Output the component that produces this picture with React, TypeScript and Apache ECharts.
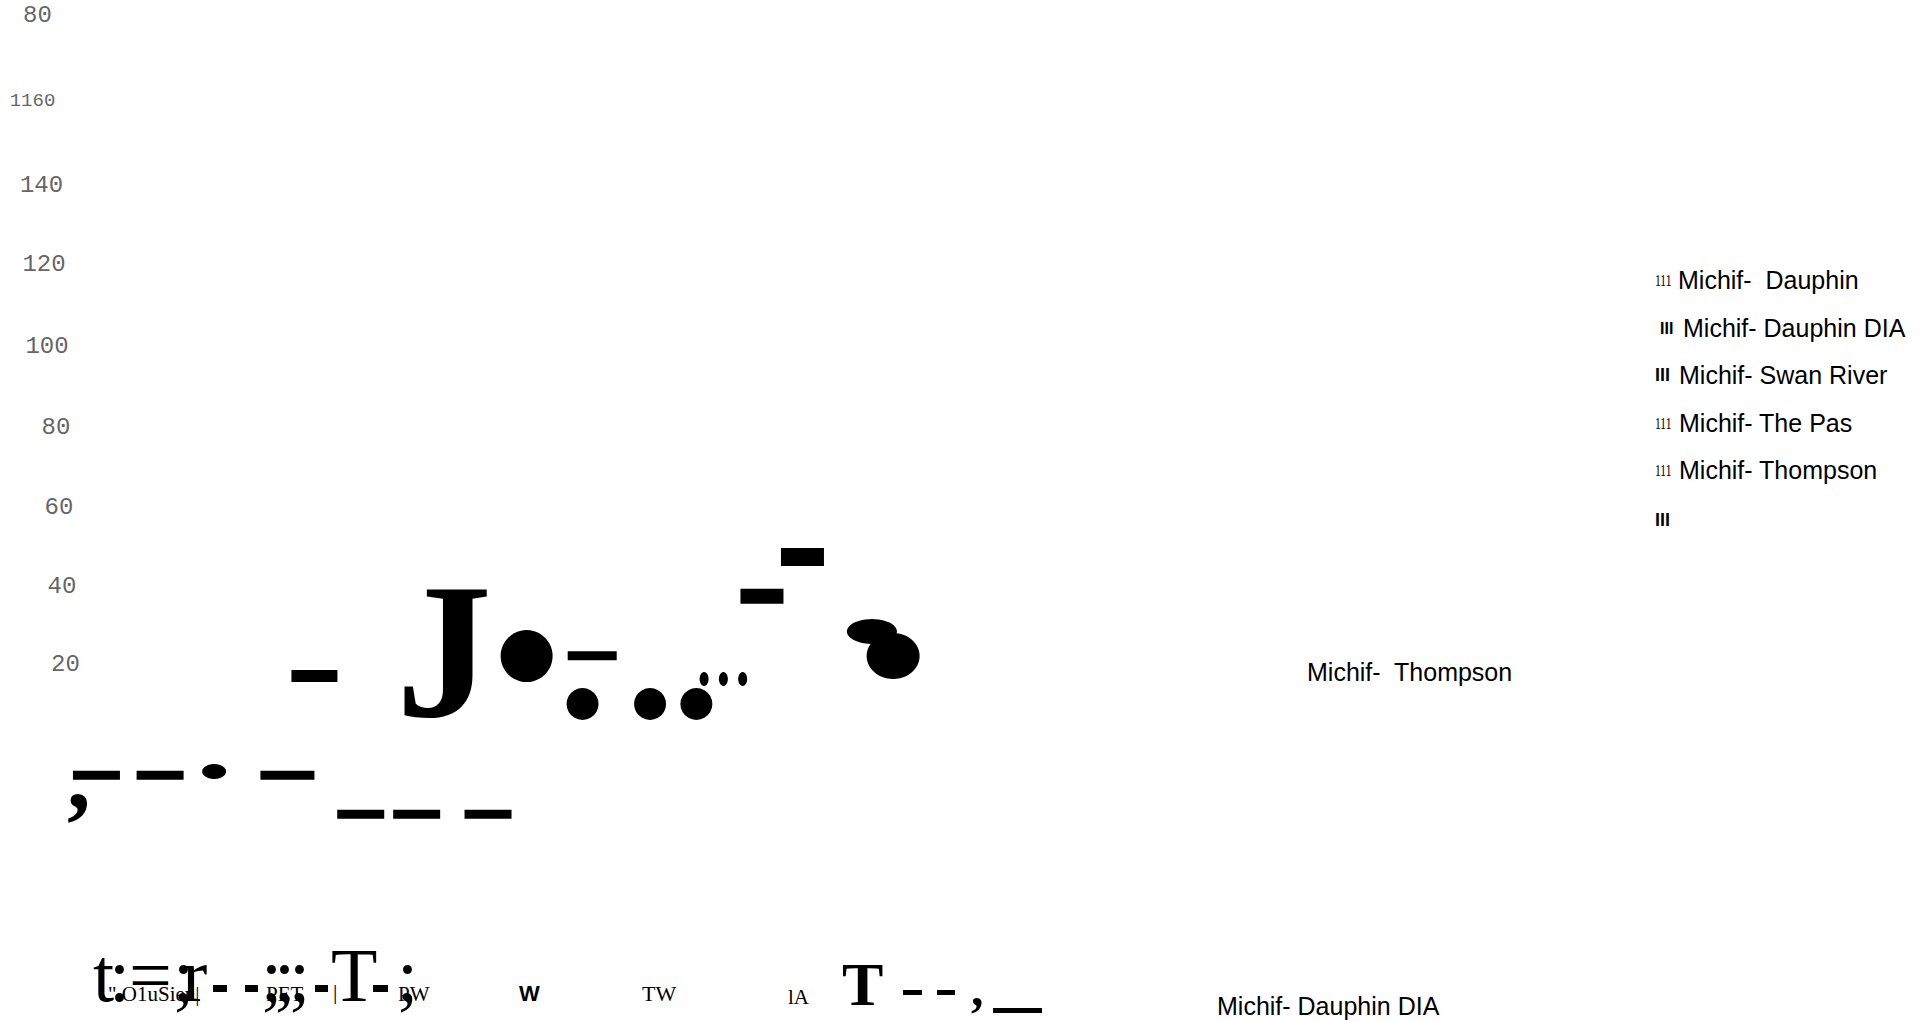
import React, { useEffect, useRef } from "react";
import * as echarts from "echarts";

// ---- Y axis tick labels (as printed) and the values they stand for ----
const tickLabels = ["80", "1160", "140", "120", "100", "80", "60", "40", "20"];
const tickValues = [180, 160, 140, 120, 100, 80, 60, 40, 20];

// ---- Rectangular marks (x position 0-100, y value) ----
const dashX = [16.3, 5.0, 8.3, 14.9, 18.7, 21.6, 25.3, 30.7, 39.5, 41.6];
const dashY = [17.2, -8.3, -8.3, -8.3, -18.3, -18.3, -18.3, 22.4, 37.6, 47.7];

// ---- Round marks (x position 0-100, y value) ----
const dotX = [27.3, 11.1, 30.2, 33.7, 36.1, 36.5, 37.5, 38.5, 45.2, 46.3];
const dotY = [22.3, -7.3, 10.0, 10.0, 10.0, 16.4, 16.4, 16.4, 28.6, 22.3];

// ---- Series names in the legend ----
const legendNames = [
  "Michif-  Dauphin",
  "Michif- Dauphin DIA",
  "Michif- Swan River",
  "Michif- The Pas",
  "Michif- Thompson",
];
const legendMarks = ["111", "III", "III", "111", "111", "III"];

// ---- Inline labels ----
const inlineLabels = ["Michif-  Thompson", "Michif- Dauphin DIA"];

// ---- Category axis row (as printed) ----
const axisRowBig = ["t", ":", "=", ";", "r", ";", ";", ";", "T", ";"];
const axisRowSmall = ["\".O1uSien|", "PET", "|", "PW", "W", "TW", "lA"];

// ================= styles (sizes/positions, not data) =================
const dashSizes = [[46, 12], [47, 9], [47, 9], [54, 9], [47, 9], [47, 9], [47, 9], [49, 9], [43, 15], [43, 18]];
const dotSizes = [[52, 52], [24, 15], [32, 32], [32, 32], [32, 32], [9, 14], [9, 14], [9, 14], [50, 25], [53, 46]];
const tickDx = [37.5, 32.5, 41.5, 44, 47, 56, 59, 62, 65.5];
const tickDy = [-26, -18, -12, -11, -7, -4, -2, -1, -1];
const legendY = [280, 328, 375, 423, 470, 520];
const legendTextX = [1678, 1683, 1679, 1679, 1679];
const legendMarkX = [1655, 1660, 1655, 1655, 1655, 1655];
const legendMarkScaleX = [0.68, 1, 1, 0.68, 0.68, 1];
const legendMarkFont = [
  '17px "Liberation Serif"',
  'bold 16px "Liberation Sans"',
  'bold 18px "Liberation Sans"',
  '17px "Liberation Serif"',
  '17px "Liberation Serif"',
  'bold 18px "Liberation Sans"',
];
const bigRowX = [93, 109, 129, 173, 182, 261, 274, 289, 331, 397];
const smallRowX = [108, 266, 333, 398, 519, 642, 788];
const smallRowY = [994, 994, 991, 994, 993, 993, 997];
const smallRowFont = [
  '21px "Liberation Serif"',
  '21px "Liberation Serif"',
  '22px "Liberation Serif"',
  '21px "Liberation Serif"',
  'bold 22px "Liberation Sans"',
  '22px "Liberation Serif"',
  '21px "Liberation Serif"',
];

function txt(text: string, x: number, y: number, font: string, fill = "#000", scaleX = 1) {
  return {
    type: "text",
    x,
    y,
    scaleX,
    silent: true,
    style: {
      text,
      font,
      fill,
      align: "left",
      verticalAlign: "middle",
      textAlign: "left",
      textVerticalAlign: "middle",
    },
  };
}
function bar(x: number, y: number, w: number, h: number) {
  return { type: "rect", silent: true, shape: { x, y, width: w, height: h }, style: { fill: "#000" } };
}

export default function App() {
  const ref = useRef<HTMLDivElement>(null);
  useEffect(() => {
    if (!ref.current) return;
    const chart = echarts.init(ref.current, undefined, { renderer: "svg" });

    const graphic: any[] = [];
    // legend
    legendNames.forEach((n, i) => {
      graphic.push(txt(n, legendTextX[i], legendY[i], '25px "Liberation Sans"'));
    });
    legendMarks.forEach((m, i) => {
      graphic.push(txt(m, legendMarkX[i], legendY[i], legendMarkFont[i], "#000", legendMarkScaleX[i]));
    });
    // inline labels
    graphic.push(txt(inlineLabels[0], 1307, 672, '25px "Liberation Sans"'));
    graphic.push(txt(inlineLabels[1], 1217, 1006, '25px "Liberation Sans"'));
    // big glyphs in plot
    graphic.push(txt("J", 396, 651, 'bold 192px "Liberation Serif"'));
    graphic.push(txt(",", 67, 776, 'bold 95px "Liberation Serif"'));
    // axis row
    axisRowBig.forEach((g, i) => {
      graphic.push(txt(g, bigRowX[i], 975, '76px "Liberation Serif"'));
    });
    axisRowSmall.forEach((g, i) => {
      graphic.push(txt(g, smallRowX[i], smallRowY[i], smallRowFont[i]));
    });
    graphic.push(bar(213, 985, 14, 7));
    graphic.push(bar(245, 985, 13, 7));
    graphic.push(bar(315, 985, 13, 7));
    graphic.push(bar(373, 985, 15, 7));
    graphic.push(txt("T", 842, 984, 'bold 62px "Liberation Serif"'));
    graphic.push(bar(903, 990, 19, 5));
    graphic.push(bar(937, 990, 18, 5));
    graphic.push(txt(",", 971, 988, 'bold 50px "Liberation Serif"'));
    graphic.push(bar(993, 1008, 49, 5));

    chart.setOption({
      animation: false,
      backgroundColor: "#fff",
      grid: { left: 0, right: 0, top: 2, bottom: 5 },
      xAxis: { type: "value", min: 0, max: 100, show: false },
      yAxis: { type: "value", min: -70, max: 190, show: false },
      series: [
        {
          type: "scatter",
          name: "dashes",
          clip: false,
          silent: true,
          itemStyle: { color: "#000", opacity: 1 },
          data: dashX.map((x, i) => ({
            value: [x, dashY[i]],
            symbol: "rect",
            symbolSize: dashSizes[i],
          })),
        },
        {
          type: "scatter",
          name: "dots",
          clip: false,
          silent: true,
          itemStyle: { color: "#000", opacity: 1 },
          data: dotX.map((x, i) => ({
            value: [x, dotY[i]],
            symbol: "circle",
            symbolSize: dotSizes[i],
          })),
        },
        {
          type: "scatter",
          name: "ticks",
          clip: false,
          silent: true,
          symbolSize: 1,
          itemStyle: { color: "rgba(0,0,0,0)" },
          data: tickValues.map((v, i) => ({
            value: [0, v],
            label: {
              show: true,
              position: "inside",
              offset: [tickDx[i], tickDy[i]],
              formatter: () => tickLabels[i],
              fontFamily: '"Liberation Mono"',
              fontSize: i === 1 ? 19 : 24,
              color: "#3a3a3a",
            },
          })),
        },
      ],
      graphic: { elements: graphic },
    });
    return () => chart.dispose();
  }, []);
  return (
    <div
      ref={ref}
      style={{ position: "fixed", left: 0, top: 0, width: 1929, height: 1021, background: "#fff" }}
    />
  );
}
